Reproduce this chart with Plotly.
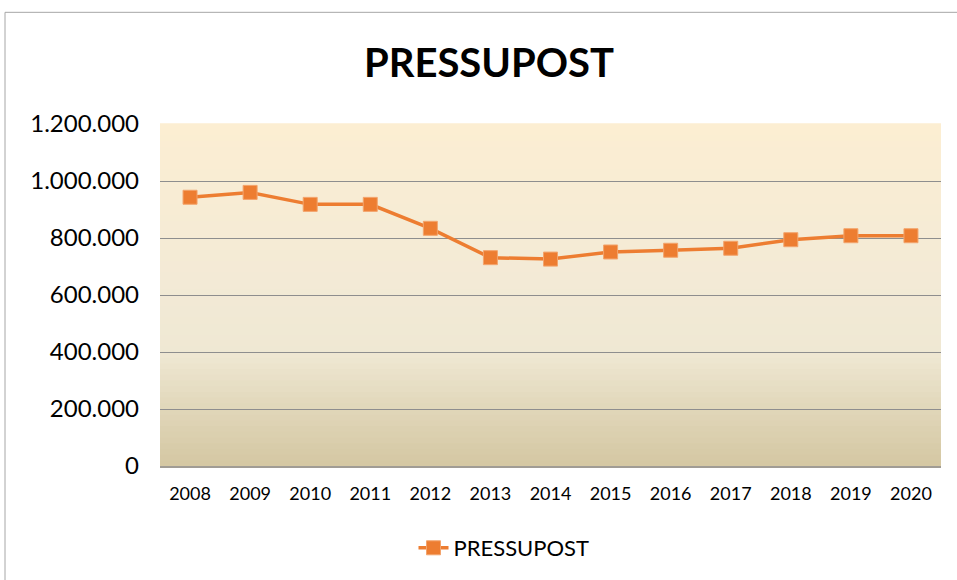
import plotly.graph_objects as go

years = ["2008", "2009", "2010", "2011", "2012", "2013", "2014",
         "2015", "2016", "2017", "2018", "2019", "2020"]
pressupost = [943000, 960000, 918000, 918000, 834000, 731000, 726000,
              751000, 757000, 764000, 794000, 808000, 808000]
y_ticks = [0, 200000, 400000, 600000, 800000, 1000000, 1200000]
y_ticktext = ["0", "200.000", "400.000", "600.000", "800.000", "1.000.000", "1.200.000"]

W, H = 957, 580
ML, MR, MT, MB = 160, 16, 124, 113
PW, PH = W - ML - MR, H - MT - MB

def px_x(x):
    return (x - ML) / PW

def px_y(y):
    return (H - MB - y) / PH

fig = go.Figure()
fig.add_trace(go.Scatter(
    x=years, y=pressupost, mode="lines+markers", name="PRESSUPOST",
    line=dict(color="#ED7D31", width=3.5),
    marker=dict(symbol="square", size=14, color="#ED7D31",
                line=dict(color="#F3A46C", width=1)),
))

# background gradient (styling only) in paper coords
stops = [(0.0, (212, 199, 162)), (0.17, (225, 215, 186)), (0.33, (239, 232, 211)),
         (0.55, (243, 234, 214)), (1.0, (252, 238, 210))]

def col(t):
    for (t0, c0), (t1, c1) in zip(stops[:-1], stops[1:]):
        if t0 <= t <= t1:
            f = (t - t0) / (t1 - t0)
            return "rgb(%d,%d,%d)" % tuple(round(a + (b - a) * f) for a, b in zip(c0, c1))
    return "rgb(%d,%d,%d)" % stops[-1][1]

shapes = []
N = 60
for i in range(N):
    y0, y1 = i / N, (i + 1) / N
    shapes.append(dict(type="rect", xref="paper", yref="paper", x0=0, x1=1,
                       y0=y0, y1=y1 + 0.002, fillcolor=col((y0 + y1) / 2),
                       line=dict(width=0), layer="below"))
# outer frame lines
shapes.append(dict(type="line", xref="paper", yref="paper",
                   x0=px_x(5), x1=px_x(W + 5), y0=px_y(12), y1=px_y(12),
                   line=dict(color="#A6A6A6", width=1)))
shapes.append(dict(type="line", xref="paper", yref="paper",
                   x0=px_x(5), x1=px_x(5), y0=px_y(12), y1=px_y(H + 5),
                   line=dict(color="#A6A6A6", width=1)))

fig.update_layout(
    width=W, height=H,
    margin=dict(l=ML, r=MR, t=MT, b=MB),
    paper_bgcolor="white", plot_bgcolor="rgba(0,0,0,0)",
    font=dict(family="Lato, 'Open Sans', sans-serif", color="#000000"),
    title=dict(text="<b>PRESSUPOST</b>", x=489 / W, xanchor="center",
               y=1 - 63 / H, yanchor="middle",
               font=dict(size=40, color="#000000", family="Lato")),
    shapes=shapes,
    showlegend=True,
    legend=dict(orientation="h", x=px_x(504), xanchor="center",
                y=px_y(548), yanchor="middle",
                font=dict(size=22, color="#000000"), bgcolor="rgba(0,0,0,0)"),
    xaxis=dict(type="category", range=[-0.5, 12.5], showgrid=False,
               showline=True, linecolor="#A09C94", linewidth=2,
               ticks="", tickfont=dict(size=18), ticklabelstandoff=10,
               zeroline=False, fixedrange=True),
    yaxis=dict(range=[0, 1200000], tickvals=y_ticks, ticktext=y_ticktext,
               showgrid=True, gridcolor="#8E8E8E", gridwidth=1,
               zeroline=False, showline=False, ticks="",
               tickfont=dict(size=24), ticklabelstandoff=20, fixedrange=True),
)

fig.write_html("out.html", config={"displayModeBar": False},
               post_script="document.body.style.margin='0';document.body.style.overflow='hidden';")
